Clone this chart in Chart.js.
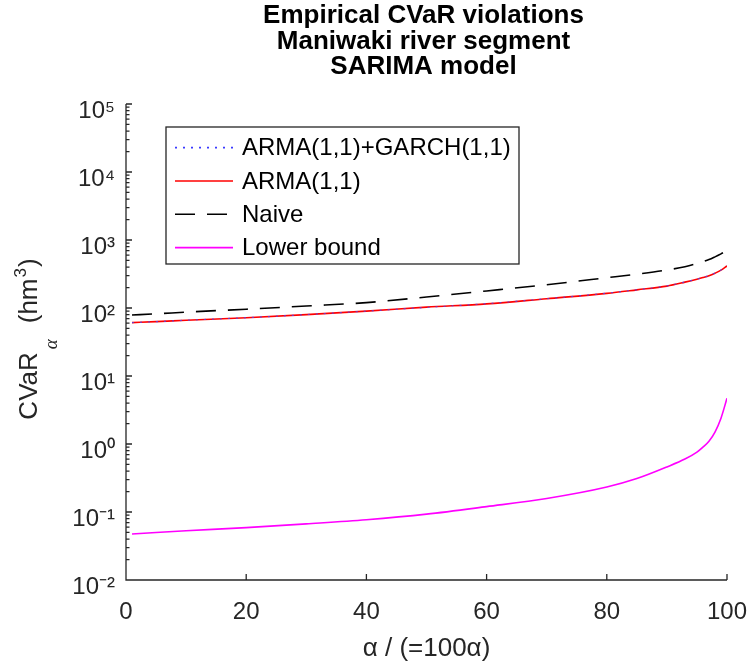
<!DOCTYPE html>
<html><head><meta charset="utf-8">
<script src="https://cdn.jsdelivr.net/npm/chart.js@4.4.1/dist/chart.umd.min.js"></script>
<style>html,body{margin:0;padding:0;background:#fff;}#wrap{width:751px;height:667px;position:relative;}</style>
</head><body><div id="wrap"><canvas id="c" width="751" height="667"></canvas></div>
<script>
const titleLines = ['Empirical CVaR violations', 'Maniwaki river segment', 'SARIMA model'];
const seriesNames = ['ARMA(1,1)+GARCH(1,1)', 'ARMA(1,1)', 'Naive', 'Lower bound'];
const alphaPct   = [1, 5, 10, 20, 30, 40, 50, 60, 70, 80, 85, 90, 93, 95, 96, 97, 98, 99, 100];
const armaGarch  = [61, 63, 66, 72, 80, 90, 102, 116, 137, 165, 185, 211, 241, 266, 282, 300, 327, 362, 418];
const arma       = [61, 63, 66, 72, 80, 90, 103, 115, 137, 164, 185, 210, 240, 265, 280, 298, 325, 360, 415];
const naive      = [79, 82, 87, 96, 107, 120, 145, 178, 220, 279, 315, 362, 405, 450, 480, 515, 565, 625, 700];
const lowerBound = [0.0475, 0.050, 0.053, 0.059, 0.067, 0.077, 0.093, 0.12, 0.158, 0.233, 0.31, 0.46, 0.60, 0.76, 0.90, 1.1, 1.5, 2.4, 4.7];
const xTickValues = [0, 20, 40, 60, 80, 100];
const yTickExponents = [-2, -1, 0, 1, 2, 3, 4, 5];
const yTickLabels = ['10\u207B\u00B2', '10\u207B\u00B9', '10\u2070', '10\u00B9', '10\u00B2', '10\u00B3', '10\u2074', '10\u2075'];
const xAxisLabel = '\u03B1 / (=100\u03B1)';
const yAxisLabelParts = ['CVaR', '\u03B1', '(hm', '3', ')'];

const AX = '#262626';
const SANS = "'Liberation Sans', Arial, sans-serif";

function pts(ys) { return alphaPct.map((a, i) => ({ x: a, y: ys[i] })); }

const styles = [
  { color: 'rgba(70,70,255,0.75)', width: 1.2, dash: [2, 6], order: 0 },
  { color: '#ff0000', width: 1.6, dash: [], order: 1 },
  { color: '#000000', width: 1.6, dash: [20, 12], order: 2 },
  { color: '#ff00ff', width: 1.6, dash: [], order: 3 }
];
const seriesData = [armaGarch, arma, naive, lowerBound];

const datasets = seriesNames.map((n, i) => ({
  label: n,
  data: pts(seriesData[i]),
  borderColor: styles[i].color,
  backgroundColor: styles[i].color,
  borderWidth: styles[i].width,
  borderDash: styles[i].dash,
  order: styles[i].order,
  pointRadius: 0,
  fill: false,
  cubicInterpolationMode: 'monotone'
}));

const isPow10 = v => Math.abs(Math.log10(v) - Math.round(Math.log10(v))) < 1e-9;

const axesPlugin = {
  id: 'matlabAxes',
  afterDatasetsDraw(chart) {
    const { ctx, chartArea: { left, right, top, bottom }, scales: { x, y } } = chart;
    ctx.save();
    ctx.strokeStyle = AX;
    ctx.lineWidth = 1.3;
    ctx.setLineDash([]);
    ctx.beginPath();
    ctx.moveTo(left, top);
    ctx.lineTo(left, bottom);
    ctx.lineTo(right, bottom);
    x.ticks.forEach(t => {
      const px = x.getPixelForValue(t.value);
      ctx.moveTo(px, bottom); ctx.lineTo(px, bottom - 6);
    });
    y.ticks.forEach(t => {
      const py = y.getPixelForValue(t.value);
      const len = isPow10(t.value) ? 6 : 3.5;
      ctx.moveTo(left, py); ctx.lineTo(left + len, py);
    });
    ctx.stroke();
    ctx.restore();
  }
};

const titlePlugin = {
  id: 'centeredTitle',
  afterDraw(chart) {
    const { ctx, chartArea: { left, right } } = chart;
    ctx.save();
    ctx.fillStyle = '#000000';
    ctx.font = 'bold 26px ' + SANS;
    ctx.textAlign = 'center'; ctx.textBaseline = 'middle';
    titleLines.forEach((l, i) => ctx.fillText(l, (left + right) / 2 - 3, 16 + i * 25.5));
    ctx.restore();
  }
};

const legendPlugin = {
  id: 'boxLegend',
  afterDraw(chart) {
    const { ctx, chartArea: { left, top } } = chart;
    const bx = left + 40, by = top + 23, bw = 353, bh = 137;
    ctx.save();
    ctx.fillStyle = '#ffffff';
    ctx.fillRect(bx, by, bw, bh);
    ctx.strokeStyle = AX; ctx.lineWidth = 1.3; ctx.setLineDash([]);
    ctx.strokeRect(bx, by, bw, bh);
    chart.data.datasets.forEach((ds, i) => {
      const cy = by + 20.7 + i * 33.3;
      ctx.beginPath();
      ctx.strokeStyle = i === 0 ? '#3a3aff' : ds.borderColor;
      ctx.lineWidth = i === 0 ? 1.7 : ds.borderWidth;
      ctx.setLineDash(ds.borderDash || []);
      ctx.moveTo(bx + 9, cy); ctx.lineTo(bx + 67, cy);
      ctx.stroke();
      ctx.setLineDash([]);
      ctx.fillStyle = '#000000';
      ctx.font = '24px ' + SANS;
      ctx.textBaseline = 'middle'; ctx.textAlign = 'left';
      ctx.fillText(ds.label, bx + 76, cy + 1);
    });
    ctx.restore();
  }
};

const yTitlePlugin = {
  id: 'yTitle',
  afterDraw(chart) {
    const { ctx, chartArea: { top, bottom } } = chart;
    const xc = 28, yc = (top + bottom) / 2 - 3;
    const parts = [
      { t: yAxisLabelParts[0], f: '26px ' + SANS, dy: 0, gap: 0 },
      { t: yAxisLabelParts[1], f: 'italic 19px "Liberation Serif", serif', dy: 20, gap: 3 },
      { t: yAxisLabelParts[2], f: '26px ' + SANS, dy: 0, gap: 16 },
      { t: yAxisLabelParts[3], f: '17px ' + SANS, dy: -11, gap: 1 },
      { t: yAxisLabelParts[4], f: '26px ' + SANS, dy: 0, gap: 1 }
    ];
    ctx.save();
    let total = 0;
    parts.forEach(p => { ctx.font = p.f; p.w = ctx.measureText(p.t).width; total += p.w + p.gap; });
    ctx.translate(xc, yc);
    ctx.rotate(-Math.PI / 2);
    ctx.fillStyle = AX;
    ctx.textBaseline = 'alphabetic'; ctx.textAlign = 'left';
    let cx = -total / 2;
    parts.forEach(p => {
      cx += p.gap;
      ctx.font = p.f;
      ctx.fillText(p.t, cx, 9 + p.dy);
      cx += p.w;
    });
    ctx.restore();
  }
};

new Chart(document.getElementById('c'), {
  type: 'line',
  data: { datasets },
  options: {
    responsive: false,
    animation: false,
    layout: { padding: { left: 0, right: 24, top: 104, bottom: 0 } },
    plugins: {
      legend: { display: false },
      tooltip: { enabled: false },
      title: { display: false }
    },
    scales: {
      x: {
        type: 'linear', min: 0, max: 100,
        afterBuildTicks: s => { s.ticks = xTickValues.map(v => ({ value: v })); },
        afterFit: s => { s.height = 87; s.paddingLeft = 0; s.paddingRight = 0; },
        grid: { display: false, drawTicks: false },
        border: { display: false },
        ticks: { color: AX, font: { family: SANS, size: 24 }, padding: 18, maxRotation: 0, autoSkip: false },
        title: { display: true, text: xAxisLabel, color: AX, font: { family: SANS, size: 26 }, padding: { top: 0, bottom: 3 } }
      },
      y: {
        type: 'logarithmic', min: 0.01, max: 100000,
        afterBuildTicks: s => {
          const t = [];
          yTickExponents.forEach((e, i) => {
            const base = Math.pow(10, e);
            t.push({ value: base, major: true });
            if (i < yTickExponents.length - 1) for (let k = 2; k <= 9; k++) t.push({ value: k * base });
          });
          s.ticks = t;
        },
        afterFit: s => { s.width = 126; s.paddingTop = 0; s.paddingBottom = 0; },
        grid: { display: false, drawTicks: false },
        border: { display: false },
        ticks: {
          color: AX, font: { family: SANS, size: 24 }, padding: 11, autoSkip: false, labelOffset: 7,
          callback: v => { if (!isPow10(v)) return ''; const e = Math.round(Math.log10(v)); return yTickLabels[yTickExponents.indexOf(e)]; }
        }
      }
    }
  },
  plugins: [axesPlugin, legendPlugin, yTitlePlugin, titlePlugin]
});
</script></body></html>
